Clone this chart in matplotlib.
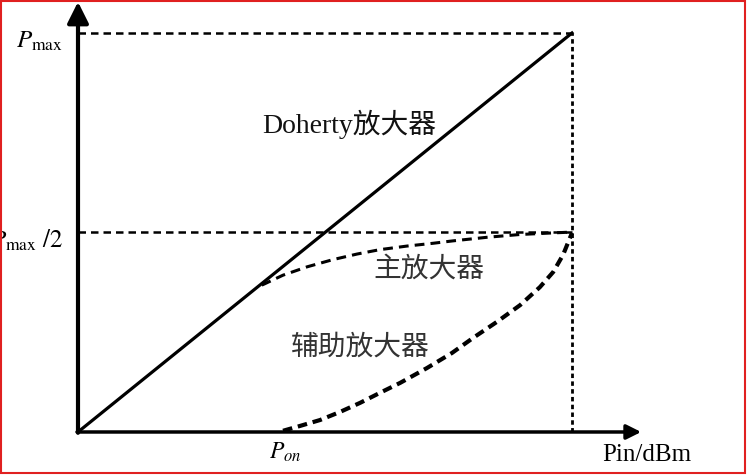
import matplotlib.pyplot as plt
from matplotlib.patches import Rectangle

plt.rcParams['mathtext.fontset'] = 'stix'

# normalised coordinates: input power (x) and output power (y), both 0..1
doherty_x = [0.0, 1.0]
doherty_y = [0.0, 1.0]

main_x = [0.372, 0.415, 0.464, 0.516, 0.565, 0.611, 0.666, 0.719, 0.759,
          0.828, 0.895, 0.962, 1.0]
main_y = [0.368, 0.393, 0.414, 0.432, 0.446, 0.457, 0.466, 0.473, 0.479,
          0.488, 0.495, 0.499, 0.501]

aux_x = [0.415, 0.449, 0.490, 0.530, 0.571, 0.611, 0.652, 0.706, 0.757,
         0.800, 0.848, 0.895, 0.935, 0.962, 0.982, 1.0]
aux_y = [0.003, 0.015, 0.030, 0.050, 0.073, 0.098, 0.123, 0.160, 0.198,
         0.236, 0.276, 0.318, 0.363, 0.401, 0.444, 0.499]

level_labels = [r'$P_{\rm max}$', r'$P_{\rm max}\ /2$']
level_values = [1.0, 0.5]

fig = plt.figure(figsize=(7.47, 4.75), dpi=100)
ax = fig.add_axes([0, 0, 1, 1])
ax.set_xlim(-0.1579, 1.3543)
ax.set_ylim(-0.1078, 1.0827)
ax.axis('off')

# axes with arrows
ax.annotate('', xy=(0, 1.078), xytext=(0, -0.002),
            arrowprops=dict(arrowstyle='-|>', lw=3, color='k', mutation_scale=32,
                            shrinkA=0, shrinkB=0))
ax.annotate('', xy=(1.14, 0), xytext=(-0.002, 0),
            arrowprops=dict(arrowstyle='-|>', lw=2.5, color='k', mutation_scale=22,
                            shrinkA=0, shrinkB=0))

# guide lines
for v in level_values:
    ax.plot([0, 1], [v, v], color='k', lw=1.8, ls=(0, (3, 2)))
ax.plot([1, 1], [0, 1], color='k', lw=2, ls=(0, (1.6, 1.2)))

# curves
ax.plot(doherty_x, doherty_y, color='k', lw=2.3)
ax.plot(main_x, main_y, color='k', lw=2.2, ls=(0, (3.2, 2)))
ax.plot(aux_x, aux_y, color='k', lw=3, ls=(0, (2.3, 1.4)))

# labels
for lab, v in zip(level_labels, level_values):
    ax.text(-0.030, v - 0.02, lab, fontsize=18, ha='right', va='center')
ax.text(0.419, -0.05, r'$P_{on}$', fontsize=17, ha='center', va='center')
ax.text(1.152, -0.058, 'Pin/dBm', fontsize=18, ha='center', va='center',
        family=['Liberation Serif'])

cjk = ['Liberation Serif', 'Noto Sans CJK SC']
ax.text(0.549, 0.772, 'Doherty放大器', fontsize=20, ha='center', va='center',
        family=cjk, color='#111111')
ax.text(0.711, 0.406, '主放大器', fontsize=20, ha='center', va='center',
        family=cjk, color='#333333')
ax.text(0.571, 0.211, '辅助放大器', fontsize=20, ha='center', va='center',
        family=cjk, color='#333333')

# red frame round the picture
fig.patches.append(Rectangle((0.002, 0.004), 0.995, 0.993, transform=fig.transFigure,
                             fill=False, edgecolor='#e02020', lw=1.5))

fig.savefig('out.png', dpi=100)
